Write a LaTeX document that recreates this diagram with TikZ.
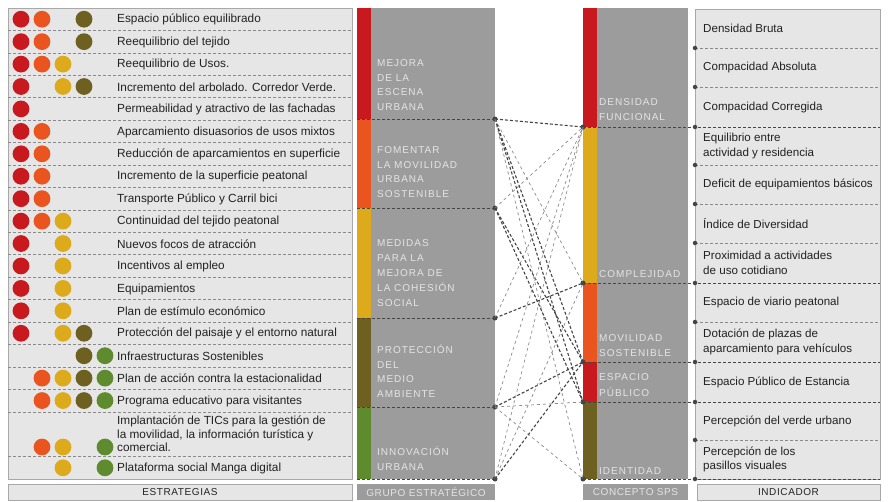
\documentclass[tikz,border=0pt]{standalone}
\usepackage{fontspec}
\setmainfont{Liberation Sans}
\newfontfamily\capsf[LetterSpace=10]{Liberation Sans}
\newfontfamily\footf[LetterSpace=6]{Liberation Sans}
\definecolor{col1}{HTML}{C8191E}
\definecolor{col2}{HTML}{E9541F}
\definecolor{col3}{HTML}{DDAA1C}
\definecolor{col4}{HTML}{6E6020}
\definecolor{col5}{HTML}{5E8B2E}
\definecolor{boxgray}{HTML}{9C9C9C}
\definecolor{panel}{HTML}{E6E6E6}
\definecolor{bordc}{HTML}{A8A8A8}
\definecolor{txt}{HTML}{222222}
\definecolor{grptxt}{HTML}{E4E4E4}
\definecolor{lnd}{HTML}{454545}
\definecolor{lnl}{HTML}{8A8A8A}
\definecolor{sepc}{HTML}{8A8A8A}
\tikzset{
  striptext/.style={anchor=west, inner sep=0pt, font=\fontsize{11.8}{13.6}\selectfont, text=txt},
  indtext/.style={anchor=west, inner sep=0pt, align=left, font=\fontsize{11.6}{14.5}\selectfont, text=txt},
  grptext/.style={anchor=base west, inner sep=0pt, font=\capsf\fontsize{10}{12}\selectfont, text=grptxt},
  foottext/.style={inner sep=0pt, font=\footf\fontsize{10}{12}\selectfont},
  dotn/.style={circle, fill=lnd, inner sep=0pt, minimum size=5pt},
  strongln/.style={draw=lnd, densely dashed, line width=1.1pt},
  lightln/.style={draw=lnl, dashed, line width=0.7pt},
  sepln/.style={draw=sepc, densely dashed, line width=0.6pt},
  boundln/.style={draw=lnd, densely dashed, line width=1pt},
}
\begin{document}
\begin{tikzpicture}[x=1pt,y=-1pt]
\fill[white] (0,0) rectangle (890,501);
\useasboundingbox (0,0) rectangle (890,501);

% ---------- strategies panel ----------
\draw[fill=panel, draw=bordc, line width=0.6pt] (8,8) rectangle (352,479);
\foreach \b in {30.4,52.9,75.3,97.7,120.1,142.6,165.0,187.4,209.9,232.3,254.7,277.2,299.6,322.0,344.5,366.9,389.3,411.8,456.6}
  \draw[sepln] (8,\b) -- (352,\b);

\foreach \i/\yc/\t/\ds in {
1/19.2/{Espacio público equilibrado}/{1,2,4},
2/41.65/{Reequilibrio del tejido}/{1,2,4},
3/64.1/{Reequilibrio de Usos.}/{1,2,3},
4/86.5/{Incremento del arbolado. Corredor Verde.}/{1,3,4},
5/108.9/{Permeabilidad y atractivo de las fachadas}/{1},
6/131.35/{Aparcamiento disuasorios de usos mixtos}/{1,2},
7/153.8/{Reducción de aparcamientos en superficie}/{1,2},
8/176.2/{Incremento de la superficie peatonal}/{1,2},
9/198.65/{Transporte Público y Carril bici}/{1,2},
10/221.1/{Continuidad del tejido peatonal}/{1,2,3},
11/243.5/{Nuevos focos de atracción}/{1,3},
12/265.95/{Incentivos al empleo}/{1,3},
13/288.4/{Equipamientos}/{1,3},
14/310.8/{Plan de estímulo económico}/{1,3},
15/333.25/{Protección del paisaje y el entorno natural}/{1,3,4},
16/355.7/{Infraestructuras Sostenibles}/{4,5},
17/378.1/{Plan de acción contra la estacionalidad}/{2,3,4,5},
18/400.55/{Programa educativo para visitantes}/{2,3,4,5},
20/467.8/{Plataforma social Manga digital}/{3,5}} {
  \node[striptext] (s\i) at (117,\yc+0.6) {\t};
  \foreach \c in \ds { \fill[color=col\c] (21*\c,\yc) circle (8.4); }
}
\node[striptext, align=left] (s19) at (117,434) {Implantación de TICs para la gestión de\\la movilidad, la información turística y\\comercial.};
\foreach \c in {2,3,5} { \fill[color=col\c] (21*\c,447) circle (8.4); }

% ---------- strategic groups ----------
\foreach \top/\bot/\col in {8/119/col1, 119/208/col2, 208/318/col3, 318/407/col4, 407/479/col5} {
  \fill[boxgray] (357,\top) rectangle (495,\bot);
  \fill[\col] (357,\top) rectangle (370.5,\bot);
}
\foreach \b in {119,208,318,407,479} \draw[boundln] (357,\b) -- (495,\b);

\node[grptext] (ga1) at (377,66.6) {MEJORA};
\node[grptext] (ga2) at (377,81.1) {DE LA};
\node[grptext] (ga3) at (377,95.6) {ESCENA};
\node[grptext] (ga4) at (377,110.1) {URBANA};
\node[grptext] (gb1) at (377,153.6) {FOMENTAR};
\node[grptext] (gb2) at (377,168.1) {LA MOVILIDAD};
\node[grptext] (gb3) at (377,182.6) {URBANA};
\node[grptext] (gb4) at (377,197.1) {SOSTENIBLE};
\node[grptext] (gc1) at (377,246.6) {MEDIDAS};
\node[grptext] (gc2) at (377,261.6) {PARA LA};
\node[grptext] (gc3) at (377,276.6) {MEJORA DE};
\node[grptext] (gc4) at (377,291.6) {LA COHESIÓN};
\node[grptext] (gc5) at (377,306.6) {SOCIAL};
\node[grptext] (gd1) at (377,353.6) {PROTECCIÓN};
\node[grptext] (gd2) at (377,368.1) {DEL};
\node[grptext] (gd3) at (377,382.6) {MEDIO};
\node[grptext] (gd4) at (377,397.1) {AMBIENTE};
\node[grptext] (ge1) at (377,455.6) {INNOVACIÓN};
\node[grptext] (ge2) at (377,470.1) {URBANA};

% ---------- SPS concepts ----------
\foreach \top/\bot/\col in {8/127/col1, 127/283/col3, 283/362/col2, 362/402/col1, 402/479/col4} {
  \fill[boxgray] (583,\top) rectangle (688,\bot);
  \fill[\col] (583,\top) rectangle (597,\bot);
}
\node[grptext] (ca1) at (599,105.6) {DENSIDAD};
\node[grptext] (ca2) at (599,120.1) {FUNCIONAL};
\node[grptext] (cb1) at (599,277.6) {COMPLEJIDAD};
\node[grptext] (cc1) at (599,341.6) {MOVILIDAD};
\node[grptext] (cc2) at (599,356.1) {SOSTENIBLE};
\node[grptext] (cd1) at (599,380.6) {ESPACIO};
\node[grptext] (cd2) at (599,396.1) {PÚBLICO};
\node[grptext] (ce1) at (599,474.6) {IDENTIDAD};

% ---------- indicators ----------
\draw[fill=panel, draw=bordc, line width=0.6pt] (695,9) rectangle (880,479);
\foreach \b in {48,87,165,204,243,322,440}
  \draw[sepln] (695,\b) -- (880,\b);
\foreach \b in {127,283,362,402,479}
  \draw[boundln] (583,\b) -- (880,\b);

\node[indtext] (i1) at (703,28.5) {Densidad Bruta};
\node[indtext] (i2) at (703,67.5) {Compacidad Absoluta};
\node[indtext] (i3) at (703,107) {Compacidad Corregida};
\node[indtext] (i4) at (703,146) {Equilibrio entre\\actividad y residencia};
\node[indtext] (i5) at (703,184.5) {Deficit de equipamientos básicos};
\node[indtext] (i6) at (703,224) {Índice de Diversidad};
\node[indtext] (i7) at (703,263) {Proximidad a actividades\\de uso cotidiano};
\node[indtext] (i8) at (703,302.5) {Espacio de viario peatonal};
\node[indtext] (i9) at (703,342) {Dotación de plazas de\\aparcamiento para vehículos};
\node[indtext] (i10) at (703,382) {Espacio Público de Estancia};
\node[indtext] (i11) at (703,421) {Percepción del verde urbano};
\node[indtext] (i12) at (703,459.5) {Percepción de los\\pasillos visuales};

% ---------- dots ----------
\foreach \n/\y in {1/119,2/208,3/318,4/407,5/479} \node[dotn] (g\n) at (495,\y) {};
\foreach \n/\y in {1/127,2/283,3/362,4/402,5/479} \node[dotn] (c\n) at (583,\y) {};
\foreach \n/\y in {1/48,2/87,3/127,4/165,5/204,6/243,7/283,8/322,9/362,10/402,11/440,12/479}
  \node[dotn, minimum size=4.5pt] (d\n) at (695,\y) {};

% ---------- connectors ----------
\draw[strongln] (g1.center) -- (c1.center);
\draw[lightln]  (g1.center) -- (c2.center);
\draw[strongln] (g1.center) -- (c3.center);
\draw[strongln] (g1.center) -- (c4.center);
\draw[lightln]  (g1.center) -- (c5.center);
\draw[lightln]  (g2.center) -- (c1.center);
\draw[strongln] (g2.center) -- (c3.center);
\draw[strongln] (g2.center) -- (c4.center);
\draw[lightln]  (g3.center) -- (c1.center);
\draw[strongln] (g3.center) -- (c2.center);
\draw[lightln]  (g4.center) -- (c1.center);
\draw[strongln] (g4.center) -- (c3.center);
\draw[lightln]  (g4.center) -- (c4.center);
\draw[lightln]  (g4.center) -- (c5.center);
\draw[lightln]  (g5.center) -- (c1.center);
\draw[lightln]  (g5.center) -- (c2.center);
\draw[strongln] (g5.center) -- (c3.center);

% ---------- footers ----------
\draw[fill=panel, draw=bordc, line width=0.6pt] (8,484) rectangle (352,500);
\node[foottext, text=txt] (f1) at (180,492) {ESTRATEGIAS};
\fill[boxgray] (357,484) rectangle (495,500);
\node[foottext, text=grptxt] (f2) at (426,492) {GRUPO ESTRATÉGICO};
\fill[boxgray] (583,484) rectangle (688,500);
\node[foottext, text=grptxt] (f3) at (635.5,492) {CONCEPTO SPS};
\draw[fill=panel, draw=bordc, line width=0.6pt] (697,484) rectangle (880,500);
\node[foottext, text=txt] (f4) at (788.5,492) {INDICADOR};
\end{tikzpicture}
\end{document}
